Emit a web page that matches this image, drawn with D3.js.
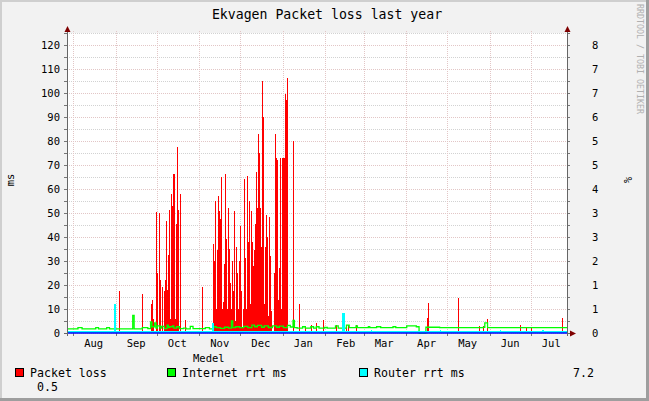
<!DOCTYPE html>
<html>
<head>
<meta charset="utf-8">
<script src="https://cdn.jsdelivr.net/npm/d3@7"></script>
<style>
body{margin:0;background:#f2f2f2}
text{font-family:"DejaVu Sans Mono",monospace;fill:#000}
</style>
</head>
<body>
<svg id="chart" width="649" height="401"></svg>
<script>
// one year, days counted from startDate
const startDate = new Date(Date.UTC(2010, 6, 27, 12))
const yearDays = 365
const lossStepDays = 0.73

// packet loss in %, two dense runs (one sample per step) plus single samples
const lossRunSepStart = 65.0
const lossRunSep = [3.37, 1.67, 0, 3.33, 1.47, 0, 1.27, 0, 1.18, 1.47, 3.1, 1.2, 2.18, 3.43, 0.4, 3.85, 3.53, 4.43, 4.43, 0.4,
    3.04, 5.18, 3.43, 0, 3.87]
const lossRunNovStart = 106.6
const lossRunNov = [2.47, 2, 3.67, 0.67, 2.3, 3.8, 3.4, 3.17, 4.33, 0.67, 0.87, 1.93, 4.43, 2.6, 0.67, 3.47, 2.33, 1.4, 0.67, 2,
    1.17, 3.4, 0.33, 2.4, 1.67, 0.67, 2, 2.97, 1.17, 0.13, 0.67, 4.27, 2.07, 0.67, 4.37, 2.53, 3.67, 0.8, 3.4, 2.53,
    1.87, 2.3, 3.03, 4.47, 3.47, 5.53, 5, 3.47, 2.4, 7, 6, 0.8, 2.4, 3.27, 2.67, 0.47, 3.23, 2.13, 0.6, 0,
    0, 1.67, 5.53, 4.87, 4.8, 0.93, 1.8, 4.87, 0.67, 4.87, 4.87, 4.87, 6.63, 6.47, 7.07, 0, 0, 0, 0, 0,
    5.33]
const lossDay = [38.2, 55.0, 61.3, 62.0, 62.8, 86.4, 98.5, 169.6, 173.7, 178.1, 181.8, 187.1, 196.4, 201.3, 203.7, 205.3, 211.0,
    263.0, 263.7, 285.6, 301.0, 303.9, 306.8, 330.7, 335.1, 338.5, 361.6]
const lossPct = [1.16, 1.07, 0.8, 0.93, 0.4, 0.37, 1.29, 0.8, 0.19, 0.22, 0.28, 0.37, 0.22, 0.39, 0.19, 0.22, 0.22,
    0.42, 0.82, 0.96, 0.2, 0.19, 0.4, 0.23, 0.17, 0.13, 0.42]

// internet rtt (ms), value holds from each day until the next
const inetDay = [0, 8, 11, 21, 23, 29, 31, 48, 49, 55, 59, 61, 62, 64, 65, 66, 68, 69, 71, 73, 74, 75, 77, 78, 80, 82, 85, 87, 90, 92,
    101, 104, 107, 109, 112, 115, 118, 120, 121, 123, 126, 129, 132, 135, 137, 139, 142, 144, 147, 150, 153, 155, 158, 161, 163, 165, 166, 168,
    172, 174, 178, 180, 182, 184, 188, 190, 196, 198, 204, 206, 211, 212, 220, 221, 226, 229, 238, 240, 248, 255, 257, 262, 272, 304, 305, 307]
const inetMs = [1.7, 2.2, 1.7, 2.2, 1.7, 2.2, 1.7, 7.3, 1.7, 2.2, 1.8, 4.6, 2.6, 4.2, 2.0, 3.0, 2.0, 2.8, 1.8, 3.3, 2.2, 2.6, 3.0, 2.0, 2.6, 1.8, 2.0, 1.7, 2.8, 1.8,
    2.2, 1.7, 2.6, 2.2, 1.9, 2.4, 2.0, 5.0, 2.2, 2.6, 2.2, 2.8, 2.2, 3.3, 2.6, 3.2, 2.4, 3.0, 2.3, 3.0, 2.4, 2.9, 2.2, 3.2, 2.5, 5.3, 2.2, 2.0,
    2.6, 2.0, 2.6, 2.0, 2.6, 2.0, 2.3, 2.0, 3.0, 2.0, 3.3, 2.2, 3.0, 2.2, 2.6, 2.2, 2.6, 2.2, 2.6, 2.2, 3.0, 2.6, 0, 2.4, 2.2, 2.4, 4.2, 2.2]

// router rtt (ms), same step form
const routerDay = [0, 34, 36, 106, 107, 201, 203, 222, 223, 272, 273, 316, 317, 347, 348]
const routerMs = [1.0, 11.9, 1.0, 4.2, 1.0, 8.4, 1.0, 1.4, 1.0, 1.3, 1.0, 1.3, 1.0, 1.3, 1.0]

const leftTicks = d3.range(0, 121, 10)
const legendItems = ["Packet loss", "Internet rrt ms", "Router rrt ms"]
const legendColors = ["#ff0000", "#00ff00", "#00ffff"]
const avgTexts = ["7.2", "0.5"]

const svg = d3.select("#chart")
const plotL = 67, plotR = 567, plotT = 33, plotB = 333
const toDate = d => new Date(startDate.getTime() + d*864e5)

const x = d3.scaleUtc().domain([startDate, toDate(yearDays)]).range([plotL, plotR])
const yL = d3.scaleLinear().domain([0, 125]).range([plotB, plotT])
const yR = d3.scaleLinear().domain([0, 125/15]).range([plotB, plotT])

// frame
svg.append("rect").attr("width", 649).attr("height", 401).attr("fill", "#f2f2f2")
svg.append("path").attr("d", "M1,401V1H649").attr("fill", "none").attr("stroke", "#cfcfcf").attr("stroke-width", 2)
svg.append("path").attr("d", "M0,399.5H647.5V0").attr("fill", "none").attr("stroke", "#9e9e9e").attr("stroke-width", 3)
svg.append("rect").attr("x", plotL).attr("y", plotT).attr("width", plotR-plotL).attr("height", plotB-plotT).attr("fill", "#fff")

// horizontal grid
const gridG = svg.append("g").attr("shape-rendering", "crispEdges")
d3.range(0, 126, 5).forEach(v => {
    const yy = Math.round(yL(v)) + 0.5
    gridG.append("line")
        .attr("x1", plotL).attr("x2", plotR).attr("y1", yy).attr("y2", yy)
        .attr("stroke", v % 10 === 0 ? "#e2c6c6" : "#d2d2d2")
        .attr("stroke-dasharray", "1,1")
    gridG.append("line")
        .attr("x1", plotL-3).attr("x2", plotL).attr("y1", yy).attr("y2", yy).attr("stroke", "#777")
    gridG.append("line")
        .attr("x1", plotR).attr("x2", plotR+3).attr("y1", yy).attr("y2", yy).attr("stroke", "#777")
})
// vertical grid at month starts
const months = d3.utcMonth.range(d3.utcMonth.ceil(startDate), toDate(yearDays))
months.forEach(m => {
    const xx = Math.round(x(m)) + 0.5
    gridG.append("line")
        .attr("x1", xx).attr("x2", xx).attr("y1", plotT-2).attr("y2", plotB)
        .attr("stroke", "#e2c6c6").attr("stroke-dasharray", "1,1")
    gridG.append("line")
        .attr("x1", xx).attr("x2", xx).attr("y1", plotB).attr("y2", plotB+3).attr("stroke", "#777")
})

// packet loss samples
const lossData = []
lossRunSep.forEach((v, i) => lossData.push({day: lossRunSepStart + i*lossStepDays, v: v}))
lossRunNov.forEach((v, i) => lossData.push({day: lossRunNovStart + i*lossStepDays, v: v}))
lossDay.forEach((d, i) => lossData.push({day: d, v: lossPct[i]}))

svg.append("g").attr("shape-rendering", "crispEdges")
    .selectAll("rect").data(lossData.filter(d => d.v > 0)).join("rect")
    .attr("x", d => Math.round(x(toDate(d.day))))
    .attr("width", 1)
    .attr("y", d => yR(d.v))
    .attr("height", d => yR(0) - yR(d.v))
    .attr("fill", "#ff0000")

// internet line
const inetPts = inetDay.map((d, i) => [d, inetMs[i]])
inetPts.push([yearDays, inetMs[inetMs.length-1]])
svg.append("path")
    .attr("d", d3.line().curve(d3.curveStepAfter).x(p => x(toDate(p[0]))).y(p => yL(p[1]))(inetPts))
    .attr("fill", "none").attr("stroke", "#00ff00").attr("stroke-width", 1.3)

// router area
const routerPts = routerDay.map((d, i) => [d, routerMs[i]])
routerPts.push([yearDays, routerMs[routerMs.length-1]])
svg.append("path")
    .attr("d", d3.area().curve(d3.curveStepAfter).x(p => x(toDate(p[0]))).y0(yL(0)).y1(p => yL(p[1]))(routerPts))
    .attr("fill", "#00ffff").attr("shape-rendering", "crispEdges")

svg.append("line").attr("x1", plotL).attr("x2", plotR).attr("y1", plotB).attr("y2", plotB)
    .attr("stroke", "#0000ff").attr("stroke-width", 1.6)

// axes
const axG = svg.append("g").attr("stroke", "#666").attr("shape-rendering", "crispEdges")
axG.append("line").attr("x1", plotL+0.5).attr("x2", plotL+0.5).attr("y1", plotT-4).attr("y2", plotB+3)
axG.append("line").attr("x1", plotR+0.5).attr("x2", plotR+0.5).attr("y1", plotT-4).attr("y2", plotB+3)
axG.append("line").attr("x1", plotL-3).attr("x2", plotL).attr("y1", plotB+0.5).attr("y2", plotB+0.5)
axG.append("line").attr("x1", plotR).attr("x2", plotR+6).attr("y1", plotB+0.5).attr("y2", plotB+0.5)

const arrowC = "#7f0000"
svg.append("path").attr("d", `M${plotL-2.5},${plotT-1}L${plotL+3.5},${plotT-1}L${plotL+0.5},${plotT-7}Z`).attr("fill", arrowC)
svg.append("path").attr("d", `M${plotR-2.5},${plotT-1}L${plotR+3.5},${plotT-1}L${plotR+0.5},${plotT-7}Z`).attr("fill", arrowC)
svg.append("path").attr("d", `M${plotR+3},${plotB-2.5}L${plotR+3},${plotB+3.5}L${plotR+9},${plotB+0.5}Z`).attr("fill", arrowC)

// tick labels
const tickFont = "10.5px"
svg.append("g").selectAll("text").data(leftTicks).join("text")
    .attr("x", 60).attr("y", d => yL(d) + 4).attr("text-anchor", "end")
    .style("font-size", tickFont).text(d => d)
svg.append("g").selectAll("text").data(leftTicks).join("text")
    .attr("x", 592).attr("y", d => yL(d) + 4)
    .style("font-size", tickFont).text(d => d3.format(".0f")(d/15))
svg.append("g").selectAll("text").data(months).join("text")
    .attr("x", m => x(new Date(m.getTime() + 15*864e5)))
    .attr("y", plotB + 14).attr("text-anchor", "middle")
    .style("font-size", tickFont).text(d3.utcFormat("%b"))

// titles
svg.append("text").attr("x", 327).attr("y", 19).attr("text-anchor", "middle")
    .style("font-size", "13.2px").text("Ekvagen Packet loss last year")
svg.append("text").attr("transform", "translate(14,180) rotate(-90)").attr("text-anchor", "middle")
    .style("font-size", tickFont).text("ms")
svg.append("text").attr("transform", "translate(624,180) rotate(90)").attr("text-anchor", "middle")
    .style("font-size", tickFont).text("%")
svg.append("text").attr("transform", "translate(637,4) rotate(90)")
    .style("font-size", "8.3px").style("fill", "#b0b0b0").text("RRDTOOL / TOBI OETIKER")

// legend
svg.append("text").attr("x", 193).attr("y", 362).style("font-size", tickFont).text("Medel")
const legX = [15, 167, 359]
legendItems.forEach((name, i) => {
    svg.append("rect").attr("x", legX[i]+0.5).attr("y", 368.5).attr("width", 8).attr("height", 8)
        .attr("fill", legendColors[i]).attr("stroke", "#000")
    svg.append("text").attr("x", legX[i]+15).attr("y", 377).style("font-size", "11.6px").text(name)
})
svg.append("text").attr("x", 573).attr("y", 377).style("font-size", "11.6px").text(avgTexts[0])
svg.append("text").attr("x", 37).attr("y", 391).style("font-size", "11.6px").text(avgTexts[1])
</script>
</body>
</html>
